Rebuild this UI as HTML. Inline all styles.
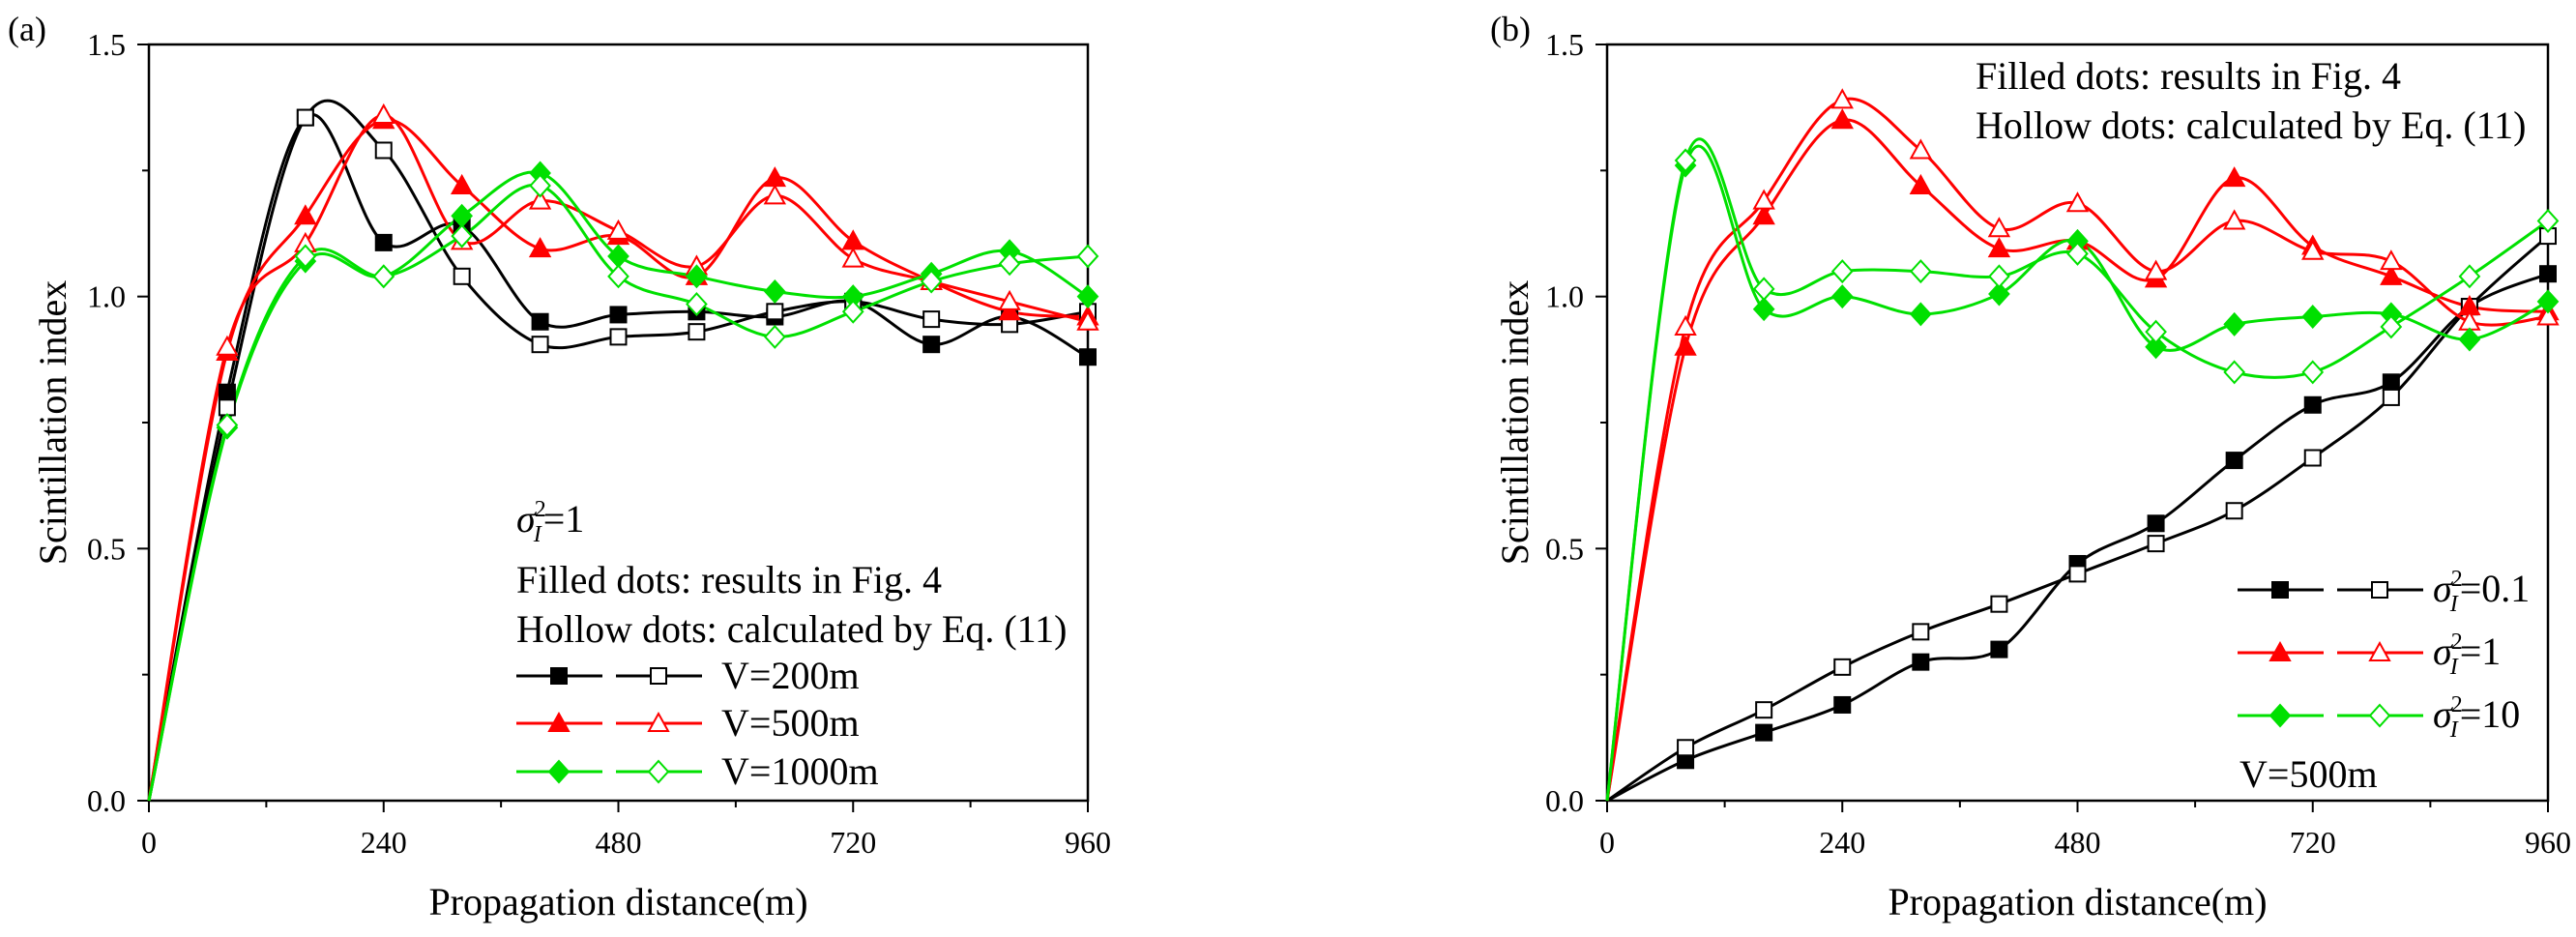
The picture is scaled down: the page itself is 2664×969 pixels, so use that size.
<!DOCTYPE html>
<html><head><meta charset="utf-8">
<style>
html,body{margin:0;padding:0;background:#fff;}
svg, svg text{font-family:"Liberation Serif","Times New Roman",serif;}
</style></head>
<body>
<svg id="fig" width="2664" height="964" viewBox="0 0 2664 964" xmlns="http://www.w3.org/2000/svg" font-family="Liberation Serif, serif">
<g id="pa"></g>
<g id="pb"></g>
</svg>
<script>
const xDist = [0,80,160,240,320,400,480,560,640,720,800,880,960];
const xTicks = [0,240,480,720,960];
const yTicks = [0.0,0.5,1.0,1.5];
const yTickLabels = ["0.0","0.5","1.0","1.5"];
// Panel (a)
const a200Filled = [0,0.81,1.355,1.107,1.14,0.95,0.964,0.97,0.96,0.99,0.905,0.96,0.88];
const a200Hollow = [0,0.78,1.355,1.29,1.04,0.905,0.92,0.93,0.97,0.99,0.955,0.945,0.97];
const a500Filled = [0,0.89,1.16,1.35,1.22,1.095,1.12,1.04,1.235,1.11,1.03,0.97,0.96];
const a500Hollow = [0,0.9,1.105,1.36,1.11,1.19,1.13,1.06,1.2,1.075,1.03,0.99,0.95];
const a1000Filled = [0,0.74,1.07,1.04,1.16,1.245,1.08,1.04,1.01,1.0,1.045,1.09,1.0];
const a1000Hollow = [0,0.745,1.08,1.04,1.12,1.22,1.04,0.985,0.92,0.97,1.03,1.065,1.08];
// Panel (b)
const b01Filled = [0,0.08,0.135,0.19,0.275,0.3,0.47,0.55,0.675,0.785,0.83,0.98,1.045];
const b01Hollow = [0,0.105,0.18,0.265,0.335,0.39,0.45,0.51,0.575,0.68,0.8,0.98,1.12];
const b1Filled = [0,0.9,1.16,1.35,1.22,1.095,1.11,1.035,1.235,1.1,1.04,0.98,0.97];
const b1Hollow = [0,0.94,1.19,1.39,1.29,1.135,1.185,1.05,1.15,1.09,1.07,0.95,0.96];
const b10Filled = [0,1.26,0.975,1.0,0.965,1.005,1.11,0.9,0.945,0.96,0.965,0.915,0.99];
const b10Hollow = [0,1.27,1.015,1.05,1.05,1.04,1.085,0.93,0.85,0.85,0.94,1.04,1.15];

const NS="http://www.w3.org/2000/svg";
const FF="Liberation Serif, Times New Roman, serif";
function mk(parent,tag,attrs,text){const e=document.createElementNS(NS,tag);for(const k in attrs)e.setAttribute(k,attrs[k]);if(tag==="text")e.setAttribute("font-family",FF);if(text!==undefined)e.textContent=text;parent.appendChild(e);return e;}

function splinePath(pts){
  let d="M"+pts[0][0]+","+pts[0][1];
  for(let i=0;i<pts.length-1;i++){
    const p0=pts[Math.max(0,i-1)],p1=pts[i],p2=pts[i+1],p3=pts[Math.min(pts.length-1,i+2)];
    const t=1/6;
    const c1=[p1[0]+(p2[0]-p0[0])*t,p1[1]+(p2[1]-p0[1])*t];
    const c2=[p2[0]-(p3[0]-p1[0])*t,p2[1]-(p3[1]-p1[1])*t];
    d+=" C"+c1[0]+","+c1[1]+" "+c2[0]+","+c2[1]+" "+p2[0]+","+p2[1];
  }
  return d;
}
function marker(g,shape,filled,color,cx,cy,name){
  const fill=filled?color:"#fff";const s=8;let e;
  if(shape==="sq") e=mk(g,"rect",{x:cx-s,y:cy-s,width:2*s,height:2*s,fill:fill,stroke:color,"stroke-width":2});
  else if(shape==="tri") e=mk(g,"polygon",{points:`${cx},${cy-10} ${cx-10},${cy+8} ${cx+10},${cy+8}`,fill:fill,stroke:color,"stroke-width":2});
  else e=mk(g,"polygon",{points:`${cx},${cy-11} ${cx+10},${cy} ${cx},${cy+11} ${cx-10},${cy}`,fill:fill,stroke:color,"stroke-width":2});
  
  
  return e;
}

function panel(g,cfg){
  const x0=cfg.x0,x1=cfg.x1,yTop=46,yBot=828;
  const sx=v=>x0+(v/960)*(x1-x0);
  const sy=v=>yBot-(v/1.5)*(yBot-yTop);
  const fr=mk(g,"rect",{x:x0,y:yTop,width:x1-x0,height:yBot-yTop,fill:"none",stroke:"#000","stroke-width":2.5});
  
  
  for(let v=0;v<=960;v+=120){
    const major=v%240===0;
    const t=mk(g,"line",{x1:sx(v),x2:sx(v),y1:yBot,y2:yBot+(major?12:7),stroke:"#000","stroke-width":2});
    
    
  }
  xTicks.forEach(v=>{
    const t=mk(g,"text",{x:sx(v),y:882,"font-size":32,"text-anchor":"middle"},String(v));
    
    
  });
  for(let v=0;v<=1.5001;v+=0.25){
    const major=Math.abs(v*2-Math.round(v*2))<1e-6;
    const t=mk(g,"line",{x1:x0,x2:x0-(major?12:7),y1:sy(v),y2:sy(v),stroke:"#000","stroke-width":2});
    
    
  }
  yTicks.forEach((v,i)=>{
    const t=mk(g,"text",{x:x0-24,y:sy(v)+11,"font-size":32,"text-anchor":"end"},yTickLabels[i]);
    
    
  });
  const xt=mk(g,"text",{x:(x0+x1)/2,y:946,"font-size":40,"text-anchor":"middle"},"Propagation distance(m)");
  
  
  const yt=mk(g,"text",{x:0,y:0,"font-size":40,"text-anchor":"middle",transform:`translate(${cfg.ytx},437) rotate(-90)`},"Scintillation index");
  
  
  const pl=mk(g,"text",{x:cfg.labx,y:42,"font-size":36},cfg.label);
  
  
  cfg.series.forEach(s=>{
    const pts=xDist.map((x,i)=>[sx(x),sy(s.values[i])]);
    const p=mk(g,"path",{d:splinePath(pts),fill:"none",stroke:s.color,"stroke-width":3});
    
    
  });
  cfg.series.forEach(s=>{
    xDist.forEach((x,i)=>{ if(i>0) marker(g,s.shape,s.filled,s.color,sx(x),sy(s.values[i]),s.name+'-point'); });
  });
}

const GREEN="#00e000";
panel(document.getElementById("pa"),{x0:154,x1:1125,ytx:68,labx:8,label:"(a)",series:[
 {name:"v200-filled",values:a200Filled,color:"#000",shape:"sq",filled:true},
 {name:"v200-hollow",values:a200Hollow,color:"#000",shape:"sq",filled:false},
 {name:"v500-filled",values:a500Filled,color:"#f00",shape:"tri",filled:true},
 {name:"v500-hollow",values:a500Hollow,color:"#f00",shape:"tri",filled:false},
 {name:"v1000-filled",values:a1000Filled,color:GREEN,shape:"dia",filled:true},
 {name:"v1000-hollow",values:a1000Hollow,color:GREEN,shape:"dia",filled:false}]});
panel(document.getElementById("pb"),{x0:1662,x1:2635,ytx:1580,labx:1541,label:"(b)",series:[
 {name:"s01-filled",values:b01Filled,color:"#000",shape:"sq",filled:true},
 {name:"s01-hollow",values:b01Hollow,color:"#000",shape:"sq",filled:false},
 {name:"s1-filled",values:b1Filled,color:"#f00",shape:"tri",filled:true},
 {name:"s1-hollow",values:b1Hollow,color:"#f00",shape:"tri",filled:false},
 {name:"s10-filled",values:b10Filled,color:GREEN,shape:"dia",filled:true},
 {name:"s10-hollow",values:b10Hollow,color:GREEN,shape:"dia",filled:false}]});

function sigmaText(g,x,y,label){
  const t=mk(g,"text",{x:x,y:y,"font-size":40});
  mk(t,"tspan",{"font-style":"italic"},"σ");
  mk(t,"tspan",{dy:-16,"font-size":24,dx:-1},"2");
  mk(t,"tspan",{dy:26,dx:-13,"font-size":24,"font-style":"italic"},"I");
  mk(t,"tspan",{dy:-10,dx:2},"="+label);
  return t;
}
function legendRow(g,y,color,shape,lx,label,sigma){
  const l1=mk(g,"line",{x1:lx,x2:lx+89,y1:y,y2:y,stroke:color,"stroke-width":3});
  
  
  marker(g,shape,true,color,lx+44,y,'legend-marker-filled');
  const l2=mk(g,"line",{x1:lx+103,x2:lx+192,y1:y,y2:y,stroke:color,"stroke-width":3});
  
  
  marker(g,shape,false,color,lx+147,y,'legend-marker-hollow');
  let t;
  if(sigma) t=sigmaText(g,lx+202,y+12,label);
  else t=mk(g,"text",{x:lx+212,y:y+13,"font-size":40},label);
  
  
}
const ga=document.getElementById("pa");
let t=sigmaText(ga,534,550,"1");


t=mk(ga,"text",{x:534,y:613,"font-size":40},"Filled dots: results in Fig. 4");


t=mk(ga,"text",{x:534,y:664,"font-size":40},"Hollow dots: calculated by Eq. (11)");


legendRow(ga,699,"#000","sq",534,"V=200m",false);
legendRow(ga,748,"#f00","tri",534,"V=500m",false);
legendRow(ga,798,GREEN,"dia",534,"V=1000m",false);

const gb=document.getElementById("pb");
t=mk(gb,"text",{x:2043,y:92,"font-size":40},"Filled dots: results in Fig. 4");


t=mk(gb,"text",{x:2043,y:143,"font-size":40},"Hollow dots: calculated by Eq. (11)");


legendRow(gb,610,"#000","sq",2314,"0.1",true);
legendRow(gb,675,"#f00","tri",2314,"1",true);
legendRow(gb,740,GREEN,"dia",2314,"10",true);
t=mk(gb,"text",{x:2316,y:814,"font-size":40},"V=500m");


</script>
</body></html>
